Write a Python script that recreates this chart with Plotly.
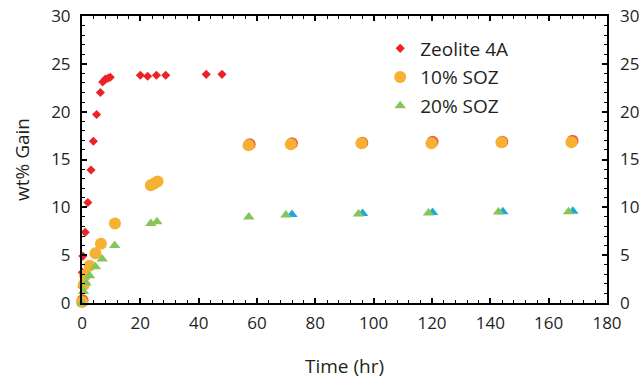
import plotly.graph_objects as go

# ---- data ----
zeo_t = [0, 0, 0.1, 0.3, 1.1, 2.0, 3.1, 3.9, 5.0, 6.3, 7.1, 8.0, 8.9, 9.7, 20.0, 22.5, 25.5, 28.7, 42.6, 48.0]
zeo_w = [0.3, 1.7, 3.2, 4.9, 7.4, 10.5, 13.9, 16.9, 19.7, 22.0, 23.1, 23.4, 23.5, 23.6, 23.8, 23.7, 23.8, 23.8, 23.9, 23.9]

soz10_t = [0, 0.6, 1.1, 2.6, 4.6, 6.5, 11.3, 23.6, 24.8, 25.9, 57.1, 71.6, 95.8, 119.8, 143.8, 167.8]
soz10_w = [0.1, 1.9, 2.9, 3.9, 5.2, 6.2, 8.3, 12.3, 12.5, 12.7, 16.5, 16.6, 16.7, 16.7, 16.8, 16.8]

# duplicate run partly hidden behind the 10% SOZ circles
soz10b_t = [0.2, 57.5, 72.0, 96.1, 120.2, 144.1, 168.2]
soz10b_w = [0.3, 16.6, 16.7, 16.75, 16.85, 16.85, 16.95]

soz20_t = [0, 0.5, 1.4, 2.6, 4.6, 6.9, 11.2, 23.6, 25.7, 57.2, 69.9, 94.8, 118.8, 142.8, 166.8]
soz20_w = [0.0, 1.2, 2.1, 2.85, 3.8, 4.6, 6.0, 8.3, 8.5, 9.0, 9.2, 9.3, 9.4, 9.5, 9.55]

# duplicate run partly hidden behind the 20% SOZ triangles
soz20b_t = [72.0, 96.2, 120.2, 144.3, 168.3]
soz20b_w = [9.25, 9.35, 9.45, 9.55, 9.6]

x_ticks = [0, 20, 40, 60, 80, 100, 120, 140, 160, 180]
y_ticks = [0, 5, 10, 15, 20, 25, 30]

RED = "#EC2227"
ORANGE = "#F6B133"
RED2 = "#E8643A"
GREEN = "#86C55A"
BLUE = "#1EA7E1"
TXT = "#231F20"
FONT = "Open Sans"

fig = go.Figure()
fig.add_trace(go.Scatter(x=zeo_t, y=zeo_w, mode="markers", name="Zeolite 4A",
                         legendgroup="a", cliponaxis=False,
                         marker=dict(symbol="diamond", size=7, color=RED)))
fig.add_trace(go.Scatter(x=soz10b_t, y=soz10b_w, mode="markers", showlegend=False,
                         cliponaxis=False,
                         marker=dict(symbol="circle", size=12, color=RED2)))
fig.add_trace(go.Scatter(x=soz10_t, y=soz10_w, mode="markers", name="10% SOZ",
                         legendgroup="b", cliponaxis=False,
                         marker=dict(symbol="circle", size=12, color=ORANGE)))
fig.add_trace(go.Scatter(x=soz20b_t, y=soz20b_w, mode="markers", showlegend=False,
                         cliponaxis=False,
                         marker=dict(symbol="triangle-up", size=10, color=BLUE)))
fig.add_trace(go.Scatter(x=soz20_t, y=soz20_w, mode="markers", name="20% SOZ",
                         legendgroup="c", cliponaxis=False,
                         marker=dict(symbol="triangle-up", size=10, color=GREEN)))
# transparent copy on the right-hand axis so that its labels are drawn
fig.add_trace(go.Scatter(x=soz20_t, y=soz20_w, mode="markers", showlegend=False,
                         yaxis="y2", hoverinfo="skip",
                         marker=dict(symbol="triangle-up", size=10, color=GREEN, opacity=0)))

axis_common = dict(showgrid=False, zeroline=False, showline=True, linecolor="black",
                   linewidth=2, ticks="inside", ticklen=5, tickwidth=1.5,
                   tickcolor="black",
                   tickfont=dict(family=FONT, size=17, color=TXT))

fig.update_layout(
    width=643, height=380,
    margin=dict(l=82, r=36, t=16, b=77, autoexpand=False),
    plot_bgcolor="white", paper_bgcolor="white",
    font=dict(family=FONT, color=TXT),
    xaxis=dict(range=[0, 180], tickvals=x_ticks, mirror="ticks", ticklabelstandoff=4,
               minor=dict(dtick=4, ticks="inside", ticklen=3, tickcolor="black", tickwidth=1),
               title=dict(text="Time (hr)", font=dict(family=FONT, size=19, color=TXT), standoff=26),
               **axis_common),
    yaxis=dict(range=[0, 30], tickvals=y_ticks, mirror="ticks", ticklabelstandoff=6,
               minor=dict(dtick=1, ticks="inside", ticklen=3, tickcolor="black", tickwidth=1),
               title=dict(text="wt% Gain", font=dict(family=FONT, size=19, color=TXT), standoff=16),
               **axis_common),
    yaxis2=dict(range=[0, 30], tickvals=y_ticks, overlaying="y", side="right", anchor="x",
                showgrid=False, zeroline=False, showline=False, ticks="",
                ticklabelstandoff=12,
                tickfont=dict(family=FONT, size=17, color=TXT)),
    legend=dict(x=0.568, y=0.953, xanchor="left", yanchor="top",
                font=dict(family=FONT, size=19, color=TXT),
                bgcolor="rgba(0,0,0,0)", tracegroupgap=1),
)

fig.write_html("out.html")
